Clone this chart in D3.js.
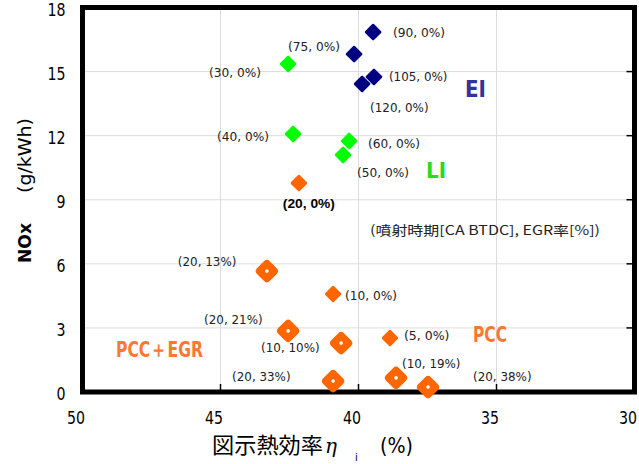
<!DOCTYPE html>
<html>
<head>
<meta charset="utf-8">
<script src="https://cdn.jsdelivr.net/npm/d3@7"></script>
<style>
  body { margin: 0; background: #fff; }
  svg { display: block; }
</style>
</head>
<body>
<svg id="chart" width="639" height="464"></svg>
<script>
// Indicated thermal efficiency (%) vs NOx (g/kWh); labels are (injection timing, EGR rate)
const eiLabels = ["(90, 0%)", "(75, 0%)", "(105, 0%)", "(120, 0%)"];
const eiEff = [39.47, 40.16, 39.44, 39.87];
const eiNox = [16.85, 15.82, 14.75, 14.42];

const liLabels = ["(30, 0%)", "(40, 0%)", "(60, 0%)", "(50, 0%)"];
const liEff = [42.55, 42.37, 40.34, 40.56];
const liNox = [15.36, 12.08, 11.75, 11.10];

const pccLabels = ["(20, 0%)", "(10, 0%)", "(5, 0%)"];
const pccEff = [42.16, 40.92, 38.86];
const pccNox = [9.78, 4.59, 2.53];

const egrLabels = ["(20, 13%)", "(20, 21%)", "(10, 10%)", "(20, 33%)", "(10, 19%)", "(20, 38%)"];
const egrEff = [43.32, 42.55, 40.63, 40.92, 38.64, 37.48];
const egrNox = [5.66, 2.86, 2.29, 0.51, 0.66, 0.23];

const xTicks = [50, 45, 40, 35, 30];
const yTicks = [0, 3, 6, 9, 12, 15, 18];

// label placement relative to each marker, in px [dx, dy]
const eiLabelOffsets = [[20, 0], [-66, -8], [15, -1], [8, 23]];
const liLabelOffsets = [[-79, 8], [-76, 2], [19, 2], [14, 17]];
const pccLabelOffsets = [[-16, 20], [12, 1], [14, -3]];
const egrLabelOffsets = [[-89, -10], [-84, -12], [-80, 4], [-101, -5], [6, -15], [45, -11]];

const NAVY = "#000080", GREEN = "#00ff00", ORANGE = "#ff6600";
const NARROW = "'Liberation Sans Narrow', 'Arial Narrow', 'DejaVu Sans Condensed', sans-serif";
const JP = "'Noto Sans CJK JP', 'Noto Sans', sans-serif";

const svg = d3.select("#chart");
const plotLeft = 82.5, plotRight = 634.5, plotTop = 7.5, plotBottom = 392;

const x = d3.scaleLinear().domain([50, 30]).range([plotLeft, plotRight]);
const y = d3.scaleLinear().domain([0, 18]).range([plotBottom, plotTop]);

// grid
const grid = svg.append("g").attr("stroke", "#dcdcdc").attr("stroke-width", 1);
grid.selectAll("line.v").data(xTicks.slice(1, -1)).join("line")
  .attr("x1", d => x(d)).attr("x2", d => x(d)).attr("y1", plotTop).attr("y2", plotBottom);
grid.selectAll("line.h").data(yTicks.slice(1, -1)).join("line")
  .attr("x1", plotLeft).attr("x2", plotRight).attr("y1", d => y(d)).attr("y2", d => y(d));

// axes (labels only; frame drawn separately)
const xAxis = svg.append("g").attr("transform", `translate(0,${plotBottom})`)
  .call(d3.axisBottom(x).tickValues(xTicks).tickSize(0).tickPadding(0));
xAxis.select(".domain").remove();
xAxis.selectAll("text")
  .attr("font-family", NARROW).attr("font-size", 18).attr("fill", "#000")
  .attr("dx", -7).attr("y", 19).attr("dy", "0.71em")
  .attr("textLength", 18).attr("lengthAdjust", "spacingAndGlyphs");

const yAxis = svg.append("g").attr("transform", `translate(${plotLeft},0)`)
  .call(d3.axisLeft(y).tickValues(yTicks).tickSize(0).tickPadding(0));
yAxis.select(".domain").remove();
yAxis.selectAll("text")
  .attr("font-family", NARROW).attr("font-size", 18).attr("fill", "#000")
  .attr("x", -17).attr("dy", "0.42em")
  .each(function (d) {
    const n = String(d).length;
    d3.select(this).attr("textLength", n * 9).attr("lengthAdjust", "spacingAndGlyphs");
  });

// small inner ticks on bottom and right edges
const ticks = svg.append("g").attr("stroke", "#000").attr("stroke-width", 1.5);
ticks.selectAll("line.b").data(xTicks.slice(1, -1)).join("line")
  .attr("x1", d => x(d)).attr("x2", d => x(d)).attr("y1", plotBottom).attr("y2", plotBottom - 8);
ticks.selectAll("line.r").data(yTicks.slice(1, -1)).join("line")
  .attr("x1", plotRight).attr("x2", plotRight - 8).attr("y1", d => y(d)).attr("y2", d => y(d));

// frame
svg.append("rect")
  .attr("x", plotLeft).attr("y", plotTop)
  .attr("width", plotRight - plotLeft).attr("height", plotBottom - plotTop)
  .attr("fill", "none").attr("stroke", "#000").attr("stroke-width", 5);

// point labels
function pointLabels(labels, eff, nox, offsets, opts = {}) {
  svg.append("g").selectAll("text").data(labels).join("text")
    .attr("x", (d, i) => x(eff[i]) + offsets[i][0])
    .attr("y", (d, i) => y(nox[i]) + offsets[i][1])
    .attr("dy", "0.36em")
    .attr("font-family", opts.bold ? "'Liberation Sans', sans-serif" : NARROW)
    .attr("font-weight", opts.bold ? "bold" : "normal")
    .attr("font-size", 13)
    .attr("fill", opts.color || "#222")
    .attr("textLength", d => d.length * 6.5)
    .attr("lengthAdjust", "spacingAndGlyphs")
    .text(d => d);
}

// rounded diamond markers
function diamonds(eff, nox, color, size, radius, dot) {
  const g = svg.append("g");
  const m = g.selectAll("g").data(eff).join("g")
    .attr("transform", (d, i) => `translate(${x(d)},${y(nox[i])})`);
  m.append("rect")
    .attr("x", -size / 2).attr("y", -size / 2)
    .attr("width", size).attr("height", size)
    .attr("rx", radius).attr("ry", radius)
    .attr("transform", "rotate(45)")
    .attr("fill", color);
  if (dot) m.append("circle").attr("r", 1.8).attr("fill", "#fff");
}

pointLabels(eiLabels, eiEff, eiNox, eiLabelOffsets);
pointLabels(liLabels, liEff, liNox, liLabelOffsets);
pointLabels(pccLabels.slice(0, 1), pccEff, pccNox, pccLabelOffsets, { bold: true, color: "#000" });
pointLabels(pccLabels.slice(1), pccEff.slice(1), pccNox.slice(1), pccLabelOffsets.slice(1));
pointLabels(egrLabels, egrEff, egrNox, egrLabelOffsets);

diamonds(eiEff, eiNox, NAVY, 12.5, 1.2, false);
diamonds(liEff, liNox, GREEN, 12.5, 1.2, false);
diamonds(pccEff, pccNox, ORANGE, 12.5, 1.5, false);
diamonds(egrEff, egrNox, ORANGE, 18, 4, true);

// group annotations
function note(text, px, py, color, size, len, weight) {
  svg.append("text")
    .attr("x", px).attr("y", py).attr("dy", "0.36em")
    .attr("font-family", NARROW).attr("font-size", size).attr("font-weight", weight || "normal")
    .attr("fill", color)
    .attr("textLength", len).attr("lengthAdjust", "spacingAndGlyphs")
    .text(text);
}
note("EI", 465, 89, "#333399", 23, 21, "bold");
note("LI", 426, 170, "#22dd22", 21, 20, "bold");
note("PCC", 473, 334, "#ff7733", 22, 34, "bold");
note("PCC＋EGR", 116, 349, "#ff7733", 22, 87, "bold");

svg.append("text")
  .attr("x", 370).attr("y", 230).attr("dy", "0.36em")
  .attr("font-family", JP).attr("font-size", 13).attr("fill", "#222")
  .attr("textLength", 230).attr("lengthAdjust", "spacingAndGlyphs")
  .text("(噴射時期[CA BTDC], EGR率[%])");

// axis titles
const xt = svg.append("text").attr("y", 447).attr("dy", "0.36em").attr("fill", "#000");
xt.append("tspan").attr("x", 212).attr("font-family", JP).attr("font-size", 22)
  .attr("textLength", 111).attr("lengthAdjust", "spacingAndGlyphs").text("図示熱効率");
xt.append("tspan").attr("x", 325).attr("font-family", "'DejaVu Serif', serif")
  .attr("font-style", "italic").attr("font-size", 20).text("η");
xt.append("tspan").attr("x", 355).attr("dy", 8).attr("font-family", NARROW)
  .attr("font-size", 11).text("i");
xt.append("tspan").attr("x", 380).attr("dy", -8).attr("font-family", NARROW)
  .attr("font-size", 22).attr("textLength", 33).attr("lengthAdjust", "spacingAndGlyphs").text("(%)");

const yt = svg.append("text")
  .attr("transform", "translate(25,263) rotate(-90)")
  .attr("dy", "0.36em").attr("fill", "#000");
yt.append("tspan").attr("x", 0).attr("font-family", NARROW).attr("font-weight", "bold")
  .attr("font-size", 18).attr("textLength", 40).attr("lengthAdjust", "spacingAndGlyphs").text("NOx");
yt.append("tspan").attr("x", 70).attr("font-family", NARROW)
  .attr("font-size", 18).attr("textLength", 75).attr("lengthAdjust", "spacingAndGlyphs").text("(g/kWh)");
</script>
</body>
</html>
